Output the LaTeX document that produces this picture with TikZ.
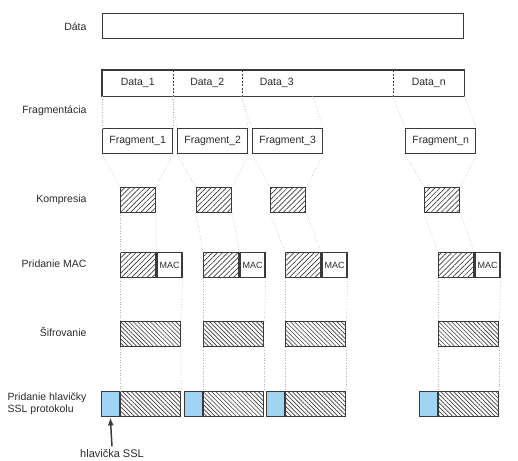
\documentclass[tikz,border=0pt]{standalone}
\usepackage{fontspec}
\setmainfont{Liberation Sans}
\usetikzlibrary{positioning,patterns.meta,arrows.meta}

\definecolor{boxgray}{HTML}{3A3A3A}
\definecolor{txtgray}{HTML}{2A2A2A}
\definecolor{hdrblue}{HTML}{9FD4F2}

\tikzset{
  box/.style={draw=boxgray,line width=1.4pt,minimum height=25,inner sep=0pt,
    anchor=north west,font=\fontsize{10.5}{12.5}\selectfont,text=txtgray},
  zip/.style={box,pattern={Lines[angle=45,distance=3.6pt,line width=.65pt]},pattern color=boxgray},
  enc/.style={box,pattern={Lines[angle=-45,distance=3pt,line width=.65pt]},pattern color=boxgray},
  guide/.style={gray!60,dotted,line width=.6pt},
  rowlabel/.style={anchor=east,font=\fontsize{10.5}{12.5}\selectfont,text=txtgray,align=left}
}

\begin{document}
\begin{tikzpicture}[x=1pt,y=-1pt]
	\useasboundingbox (0,0) rectangle (518,460);

	% row labels
	\node[rowlabel] (lData) at (90,27) {Dáta};
	\node[rowlabel] (lFrag) at (90,111) {Fragmentácia};
	\node[rowlabel] (lComp) at (90,200) {Kompresia};
	\node[rowlabel] (lMac) at (90,264) {Pridanie MAC};
	\node[rowlabel] (lEnc) at (90,332) {Šifrovanie};
	\node[rowlabel] (lHdr) at (90,404) {Pridanie hlavičky\\SSL protokolu};

	% whole data
	\node[box,minimum width=361] (data) at (102,13) {};

	% data split into parts
	\node[box,draw=none,minimum width=70] (d1) at (102,70) {Data\_1};
	\node[box,draw=none,minimum width=69] (d2) at (172,70) {Data\_2};
	\node[box,draw=none,minimum width=70] (d3) at (241,70) {Data\_3};
	\node[box,draw=none,minimum width=70] (dn) at (393,70) {Data\_n};
	\draw[boxgray,line width=1.4pt] (d1.north west) rectangle (dn.south east);
	\draw[boxgray,line width=1pt,dash pattern=on 2pt off 1.5pt] (d1.north east) -- (d1.south east);
	\draw[boxgray,line width=1pt,dash pattern=on 2pt off 1.5pt] (d2.north east) -- (d2.south east);
	\draw[boxgray,line width=1pt,dash pattern=on 2pt off 1.5pt] (dn.north west) -- (dn.south west);

	% one column per fragment
	\foreach \i/\fx/\cx/\mx in {1/102/120/120, 2/177/196/203, 3/252/270/285, n/405/424/438} {
		\node[box,minimum width=70] (f\i) at (\fx,128) {Fragment\_\i};
		\node[zip,minimum width=35] (c\i) at (\cx,187) {};
		\node[zip,minimum width=35] (m\i) at (\mx,252) {};
		\node[box,minimum width=25,right=0pt of m\i,font=\fontsize{9}{10}\selectfont] (mac\i) {MAC};
		\node[enc,minimum width=60] (e\i) at (\mx,321) {};
		\node[enc,minimum width=60] (s\i) at (\mx,391) {};
		\node[box,fill=hdrblue,minimum width=18,left=0pt of s\i] (h\i) {};

		\draw[guide] (d\i.south west) -- (f\i.north west);
		\draw[guide] (d\i.south east) -- (f\i.north east);
		\draw[guide] (f\i.south west) -- (c\i.north west);
		\draw[guide] (f\i.south east) -- (c\i.north east);
		\draw[guide] (c\i.south west) -- (m\i.north west);
		\draw[guide] (c\i.south east) -- (m\i.north east);
		\draw[guide] (m\i.south west) -- (e\i.north west);
		\draw[guide] (mac\i.south east) -- (e\i.north east);
		\draw[guide] (e\i.south west) -- (s\i.north west);
		\draw[guide] (e\i.south east) -- (s\i.north east);
	}

	% header pointer
	\node[rowlabel,anchor=center,font=\fontsize{11}{13}\selectfont] (lSsl) at (112,454) {hlavička SSL};
	\draw[-{Latex[length=8pt,width=6pt]},line width=1.5pt,boxgray] (lSsl.north) -- (h1.south);
\end{tikzpicture}
\end{document}
